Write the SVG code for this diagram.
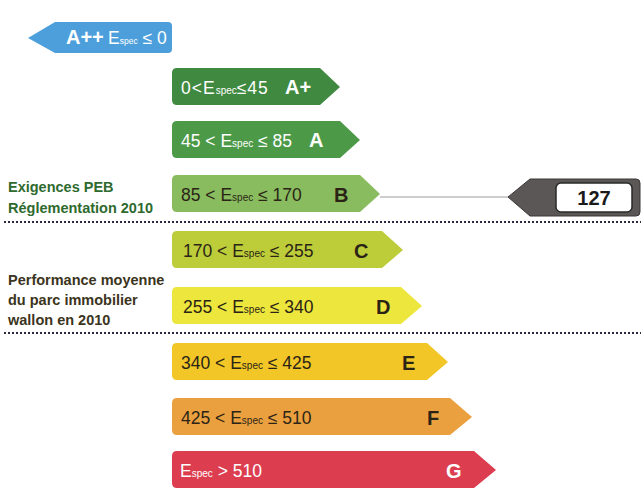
<svg xmlns="http://www.w3.org/2000/svg" width="641" height="488" viewBox="0 0 641 488">
<style>
.t{font-family:"Liberation Sans",Arial,sans-serif;font-size:17.5px}
.s{font-size:10px}
.l{font-family:"Liberation Sans",Arial,sans-serif;font-weight:bold;font-size:14.5px}
.k{font-family:"Liberation Sans",Arial,sans-serif;font-weight:bold;font-size:20px}
.w{fill:#ffffff}
.d{fill:#2b2416}
.dot{stroke:#2a2a40;stroke-width:2;stroke-dasharray:2 2;fill:none}
</style>
<rect width="641" height="488" fill="#ffffff"/>
<g id="connectors">
<line x1="380" y1="197" x2="508" y2="197" stroke="#9a9a9a" stroke-width="1"/>
<line class="dot" x1="4" y1="222" x2="641" y2="222"/>
<line class="dot" x1="4" y1="333" x2="641" y2="333"/>
</g>
<g id="app">
<path d="M28,38 L55,22 L168,22 Q172,22 172,26 L172,49 Q172,53 168,53 L55,53 Z" fill="#4d9fdc"/>
<text class="k w" x="66" y="44" font-size="16">A++</text>
<text class="t w" x="108" y="44" font-size="15">E<tspan font-size="8.5">spec</tspan> ≤ 0</text>
</g>
<g id="ap">
<path d="M177,68 L320,68 L340,87 L320,105 L177,105 Q172,105 172,100 L172,73 Q172,68 177,68 Z" fill="#3f8a40"/>
<text class="t w" x="181" y="94" font-size="19" letter-spacing="1">0&lt;E<tspan class="s" letter-spacing="0">spec</tspan>≤45</text>
<text class="k w" x="285" y="94">A+</text>
</g>
<g id="a">
<path d="M177,121 L340,121 L360,140 L340,158 L177,158 Q172,158 172,153 L172,126 Q172,121 177,121 Z" fill="#4c9a48"/>
<text class="t w" x="181" y="147">45 &lt; E<tspan class="s">spec</tspan> ≤ 85</text>
<text class="k w" x="309" y="147">A</text>
</g>
<g id="b">
<path d="M177,175 L360,175 L380,194 L360,212 L177,212 Q172,212 172,207 L172,180 Q172,175 177,175 Z" fill="#88bc5e"/>
<text class="t d" x="181" y="201">85 &lt; E<tspan class="s">spec</tspan> ≤ 170</text>
<text class="k d" x="334" y="202">B</text>
</g>
<g id="c">
<path d="M177,231 L382,231 L403,250 L382,268 L177,268 Q172,268 172,263 L172,236 Q172,231 177,231 Z" fill="#bdcd3a"/>
<text class="t d" x="183" y="257">170 &lt; E<tspan class="s">spec</tspan> ≤ 255</text>
<text class="k d" x="354" y="258">C</text>
</g>
<g id="dd">
<path d="M177,287 L401,287 L422,306 L401,324 L177,324 Q172,324 172,319 L172,292 Q172,287 177,287 Z" fill="#ede63d"/>
<text class="t d" x="183" y="313">255 &lt; E<tspan class="s">spec</tspan> ≤ 340</text>
<text class="k d" x="376" y="314">D</text>
</g>
<g id="e">
<path d="M177,343 L427,343 L448,362 L427,380 L177,380 Q172,380 172,375 L172,348 Q172,343 177,343 Z" fill="#f1c626"/>
<text class="t d" x="181" y="369">340 &lt; E<tspan class="s">spec</tspan> ≤ 425</text>
<text class="k d" x="402" y="370">E</text>
</g>
<g id="f">
<path d="M177,398 L450,398 L472,417 L450,435 L177,435 Q172,435 172,430 L172,403 Q172,398 177,398 Z" fill="#eba040"/>
<text class="t d" x="181" y="424">425 &lt; E<tspan class="s">spec</tspan> ≤ 510</text>
<text class="k d" x="427" y="425">F</text>
</g>
<g id="g">
<path d="M177,451 L474,451 L496,470 L474,488 L177,488 Q172,488 172,483 L172,456 Q172,451 177,451 Z" fill="#dc3e50"/>
<text class="t w" x="180" y="477">E<tspan class="s">spec</tspan> &gt; 510</text>
<text class="k w" x="446" y="478">G</text>
</g>
<g id="value">
<path d="M508,197 L530,179 L636,179 Q640,179 640,183 L640,212 Q640,216 636,216 L530,216 Z" fill="#5b5756" stroke="#3a3837" stroke-width="1"/>
<rect x="556" y="183" width="76" height="29" rx="5" fill="#ffffff" stroke="#2a2a2a" stroke-width="1.5"/>
<text class="k" x="594" y="205" text-anchor="middle" fill="#1a1a1a">127</text>
</g>
<g id="labels">
<text class="l" x="8" y="192" fill="#2f6a2e">Exigences PEB</text>
<text class="l" x="8" y="213" fill="#2f6a2e">Réglementation 2010</text>
<text class="l" x="8" y="285" fill="#3b3420">Performance moyenne</text>
<text class="l" x="8" y="305" fill="#3b3420">du parc immobilier</text>
<text class="l" x="8" y="325" fill="#3b3420">wallon en 2010</text>
</g>
</svg>
